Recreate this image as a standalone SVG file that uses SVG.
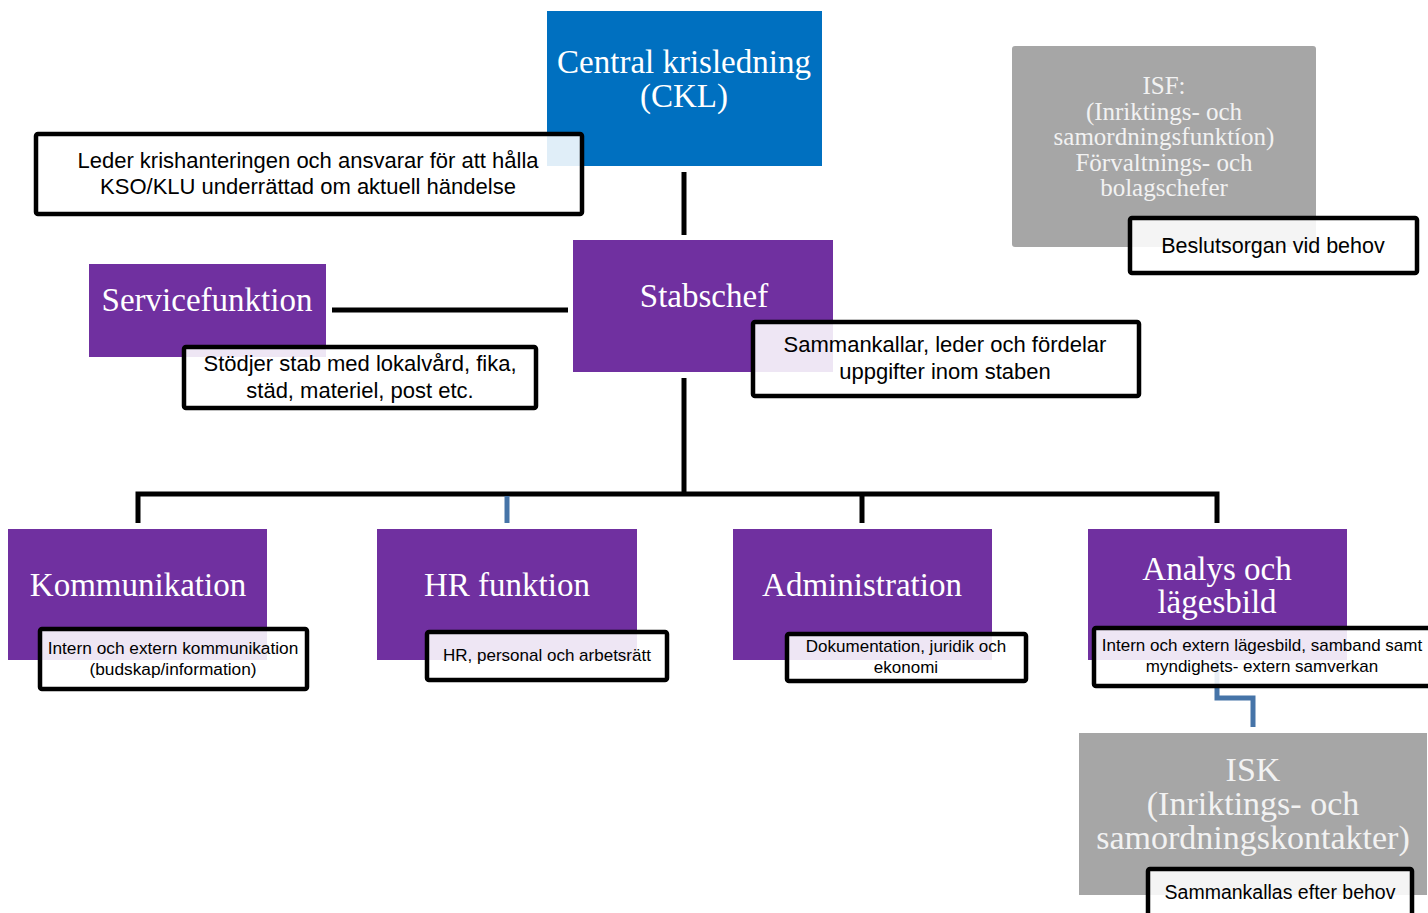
<svg xmlns="http://www.w3.org/2000/svg" width="1428" height="913" viewBox="0 0 1428 913">
<style>
.bg{fill:#ffffff}
.blue{fill:#0070C0}
.purple{fill:#7030A0}
.gray{fill:#A6A6A6}
.title{font-family:"Liberation Serif","Times New Roman",serif;fill:#ffffff;text-anchor:middle}
.gtitle{font-family:"Liberation Serif","Times New Roman",serif;fill:#F2F2F2;text-anchor:middle}
.note{fill:#ffffff;fill-opacity:0.88;stroke:#000000;stroke-width:4.5}
.nt{font-family:"Liberation Sans",Arial,sans-serif;fill:#000000;text-anchor:middle}
.blk{stroke:#000000;stroke-width:5;fill:none}
.bl{stroke:#4674A8;stroke-width:5;fill:none}
</style>
<rect class="bg" x="0" y="0" width="1428" height="913"/>

<g id="connectors">
<line class="blk" x1="684" y1="172" x2="684" y2="235"/>
<line class="blk" x1="332" y1="310" x2="568" y2="310"/>
<line class="blk" x1="684" y1="378" x2="684" y2="494"/>
<polyline class="blk" points="138,523 138,494 1217,494 1217,523"/>
<line class="bl" x1="507" y1="496" x2="507" y2="523"/>
<line class="blk" x1="862" y1="494" x2="862" y2="523"/>
<polyline class="bl" points="1217,660 1217,698 1253,698 1253,727"/>
</g>

<g id="ckl">
<rect class="blue" x="547" y="11" width="275" height="155"/>
<text class="title" font-size="33" x="684" y="73">Central krisledning</text>
<text class="title" font-size="33" x="684" y="107">(CKL)</text>
</g>
<g id="ckl-note">
<rect class="note" x="36" y="134" width="546" height="80" rx="2"/>
<text class="nt" font-size="22" x="308" y="168">Leder krishanteringen och ansvarar för att hålla</text>
<text class="nt" font-size="22" x="308" y="194">KSO/KLU underrättad om aktuell händelse</text>
</g>

<g id="isf">
<rect class="gray" x="1012" y="46" width="304" height="201" rx="3"/>
<text class="gtitle" font-size="25" x="1164" y="94">ISF:</text>
<text class="gtitle" font-size="25" x="1164" y="120">(Inriktings- och</text>
<text class="gtitle" font-size="25" x="1164" y="145">samordningsfunktíon)</text>
<text class="gtitle" font-size="25" x="1164" y="171">Förvaltnings- och</text>
<text class="gtitle" font-size="25" x="1164" y="196">bolagschefer</text>
</g>
<g id="isf-note">
<rect class="note" x="1130" y="218" width="287" height="55" rx="2"/>
<text class="nt" font-size="21.5" x="1273" y="253">Beslutsorgan vid behov</text>
</g>

<g id="service">
<rect class="purple" x="89" y="264" width="237" height="93"/>
<text class="title" font-size="33" x="207" y="311">Servicefunktion</text>
</g>
<g id="service-note">
<rect class="note" x="184" y="347" width="352" height="61" rx="2"/>
<text class="nt" font-size="22" x="360" y="371">Stödjer stab med lokalvård, fika,</text>
<text class="nt" font-size="22" x="360" y="398">städ, materiel, post etc.</text>
</g>

<g id="stabschef">
<rect class="purple" x="573" y="240" width="260" height="132"/>
<text class="title" font-size="33" x="704" y="307">Stabschef</text>
</g>
<g id="stabschef-note">
<rect class="note" x="753" y="322" width="386" height="74" rx="2"/>
<text class="nt" font-size="22" x="945" y="352">Sammankallar, leder och fördelar</text>
<text class="nt" font-size="22" x="945" y="379">uppgifter inom staben</text>
</g>

<g id="kommunikation">
<rect class="purple" x="8" y="529" width="259" height="131"/>
<text class="title" font-size="33" x="138" y="596">Kommunikation</text>
</g>
<g id="kommunikation-note">
<rect class="note" x="40" y="629" width="267" height="60" rx="2"/>
<text class="nt" font-size="17.3" x="173" y="654">Intern och extern kommunikation</text>
<text class="nt" font-size="17.3" x="173" y="675">(budskap/information)</text>
</g>

<g id="hr">
<rect class="purple" x="377" y="529" width="260" height="131"/>
<text class="title" font-size="33" x="507" y="596">HR funktion</text>
</g>
<g id="hr-note">
<rect class="note" x="427" y="632" width="240" height="48" rx="2"/>
<text class="nt" font-size="17" x="547" y="661">HR, personal och arbetsrätt</text>
</g>

<g id="administration">
<rect class="purple" x="733" y="529" width="259" height="131"/>
<text class="title" font-size="33" x="862" y="596">Administration</text>
</g>
<g id="administration-note">
<rect class="note" x="787" y="634" width="239" height="47" rx="2"/>
<text class="nt" font-size="17" x="906" y="652">Dokumentation, juridik och</text>
<text class="nt" font-size="17" x="906" y="673">ekonomi</text>
</g>

<g id="analys">
<rect class="purple" x="1088" y="529" width="259" height="131"/>
<text class="title" font-size="33" x="1217" y="580">Analys och</text>
<text class="title" font-size="33" x="1217" y="613">lägesbild</text>
</g>
<g id="analys-note">
<rect class="note" x="1094" y="628" width="340" height="58" rx="2"/>
<text class="nt" font-size="17" x="1262" y="651">Intern och extern lägesbild, samband samt</text>
<text class="nt" font-size="17" x="1262" y="672">myndighets- extern samverkan</text>
</g>

<g id="isk">
<rect class="gray" x="1079" y="733" width="348" height="162"/>
<text class="gtitle" font-size="34" x="1253" y="781">ISK</text>
<text class="gtitle" font-size="34" x="1253" y="815">(Inriktings- och</text>
<text class="gtitle" font-size="34" x="1253" y="849">samordningskontakter)</text>
</g>
<g id="isk-note">
<rect class="note" x="1148" y="869" width="264" height="50" rx="2"/>
<text class="nt" font-size="19.5" x="1280" y="899">Sammankallas efter behov</text>
</g>
</svg>
